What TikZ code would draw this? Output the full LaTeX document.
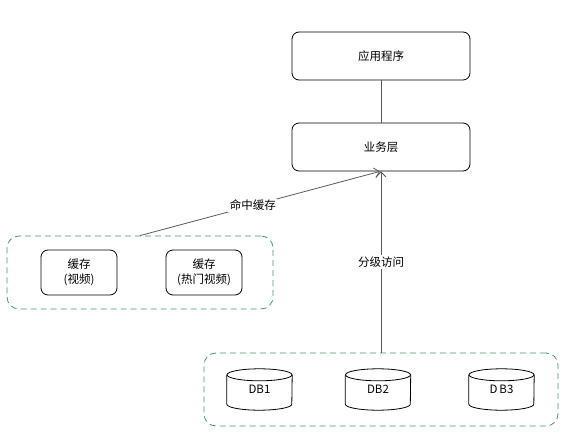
\documentclass[tikz,border=0pt]{standalone}
\usepackage{fontspec}
\setmainfont{Noto Sans CJK SC}
\usetikzlibrary{arrows.meta,calc}
\definecolor{grpgreen}{RGB}{64,156,108}
\definecolor{linegray}{RGB}{90,90,90}
\tikzset{
  box/.style={draw=black, rounded corners=7pt, line width=0.8pt, minimum width=178pt, minimum height=48pt, inner sep=0pt, font=\fontsize{11.5pt}{14pt}\selectfont},
  cachebox/.style={draw=black, rounded corners=7pt, line width=0.8pt, minimum width=76pt, minimum height=45pt, inner sep=0pt, align=center, font=\fontsize{11.5pt}{15pt}\selectfont},
  grp/.style={draw=grpgreen, dashed, dash pattern=on 6pt off 4pt, rounded corners=12pt, line width=0.8pt, inner sep=0pt},
  dbnode/.style={minimum width=65pt, minimum height=41pt, inner sep=0pt, font=\fontsize{11.5pt}{14pt}\selectfont},
  conn/.style={draw=linegray, line width=0.8pt},
  arr/.style={conn, -{Straight Barb[length=5pt,width=10pt]}},
  lbl/.style={fill=white, inner sep=1.5pt, font=\fontsize{11.5pt}{14pt}\selectfont},
}
\begin{document}
\begin{tikzpicture}[x=1pt,y=-1pt]
\useasboundingbox (0,0) rectangle (575,438);
% top boxes
\node[box] (app) at (381,56) {应用程序};
\node[box] (biz) at (381,147) {业务层};
% cache group
\node[grp, minimum width=266pt, minimum height=73pt] (cgrp) at (140,272.5) {};
\node[cachebox] (c1) at (79,272.5) {缓存\\(视频)};
\node[cachebox] (c2) at (204,272.5) {缓存\\(热门视频)};
% db group
\node[grp, minimum width=354pt, minimum height=73pt] (dgrp) at (381,389.5) {};
\node[dbnode] (db1) at (259.5,389.5) {\raisebox{-5pt}{DB1}};
\node[dbnode] (db2) at (378,389.5) {\raisebox{-5pt}{DB2}};
\node[dbnode] (db3) at (501.5,389.5) {\raisebox{-5pt}{D\,B3}};
\foreach \n in {db1,db2,db3}{
  \draw[line width=0.8pt]
    ([yshift=-6pt]\n.north west) -- ([yshift=6pt]\n.south west)
    arc[start angle=180, end angle=360, x radius=32.5pt, y radius=6pt]
    -- ([yshift=-6pt]\n.north east);
  \draw[line width=0.8pt] ([yshift=-6pt]\n.north) ellipse[x radius=32.5pt, y radius=6pt];
}
% connectors
\draw[conn] (app) -- (biz);
\draw[arr] (dgrp.north) -- node[lbl] {分级访问} (biz.south);
\draw[arr] (cgrp.north) -- node[lbl, pos=0.47] {命中缓存} ([xshift=-1pt]biz.south);
\end{tikzpicture}
\end{document}
